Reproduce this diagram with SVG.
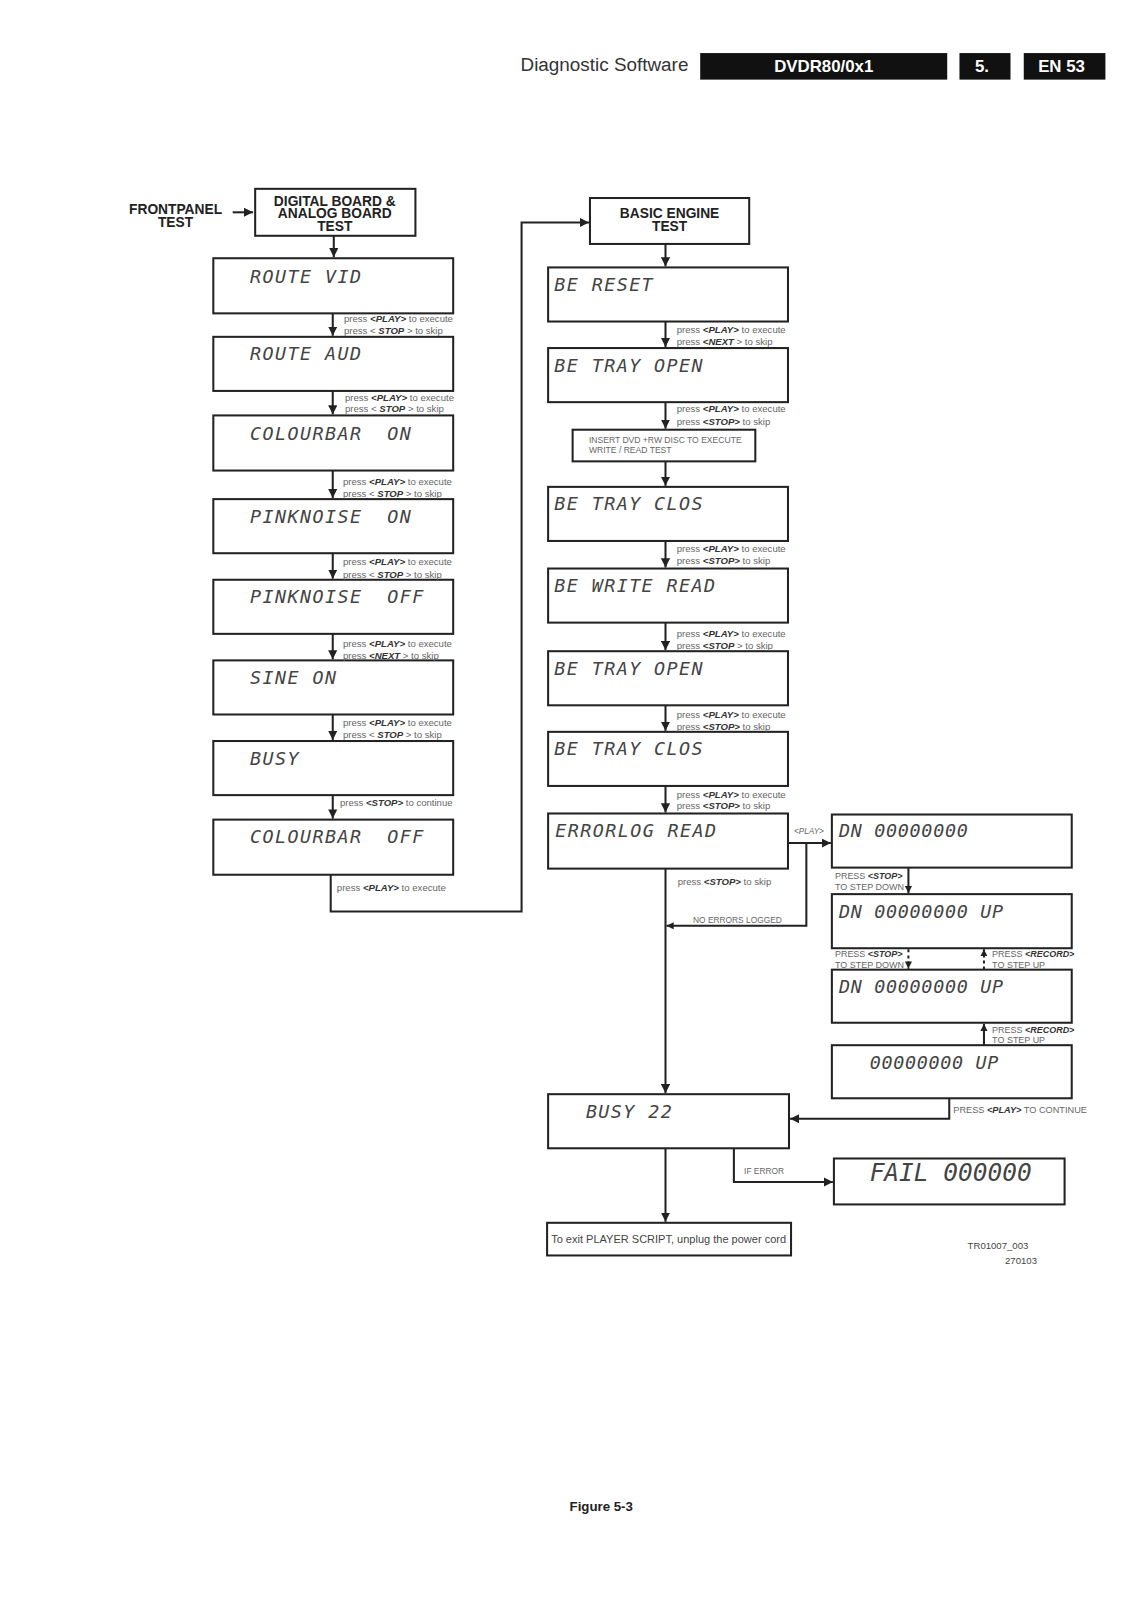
<svg xmlns="http://www.w3.org/2000/svg" width="1131" height="1600" viewBox="0 0 1131 1600">
<defs>
<marker id="ah" viewBox="0 0 10 10" refX="10" refY="5" markerWidth="9" markerHeight="9" markerUnits="userSpaceOnUse" orient="auto"><path d="M0,0 L10,5 L0,10 Z" fill="#222"/></marker>
<marker id="ahs" viewBox="0 0 10 10" refX="10" refY="5" markerWidth="7" markerHeight="7" markerUnits="userSpaceOnUse" orient="auto"><path d="M0,0 L10,5 L0,10 Z" fill="#222"/></marker>
<style>
.box{fill:#fff;stroke:#222;stroke-width:2}
.lcd{font-family:"DejaVu Sans Mono",monospace;font-size:18px;font-style:italic;fill:#444;letter-spacing:1.4px}
.lcd2{font-family:"DejaVu Sans Mono",monospace;font-size:18px;font-style:italic;fill:#444;letter-spacing:0.7px}
.big{font-family:"DejaVu Sans Mono",monospace;font-size:24px;font-style:italic;fill:#444}
.lbl{font-family:"Liberation Sans",Arial,sans-serif;font-size:9.4px;fill:#666}
.kw{font-weight:bold;font-style:italic;fill:#333}
.ttl{font-family:"Liberation Sans",Arial,sans-serif;font-weight:bold;font-size:13.5px;fill:#222;text-anchor:middle}
.conn{stroke:#222;stroke-width:2;fill:none}
.dash{stroke:#222;stroke-width:2;fill:none;stroke-dasharray:3 3}
.hdr{font-family:"Liberation Sans",Arial,sans-serif;font-size:18.5px;fill:#333}
.hdrw{font-family:"Liberation Sans",Arial,sans-serif;font-size:16.5px;font-weight:bold;fill:#fff;text-anchor:middle}
</style>
</defs>
<rect width="1131" height="1600" fill="#fff"/>
<g transform="scale(1.0207)">
<g id="header">
<text class="hdr" x="510" y="70">Diagnostic Software</text>
<rect x="686" y="52" width="242" height="26" fill="#111"/>
<text class="hdrw" x="807" y="71">DVDR80/0x1</text>
<rect x="940" y="52" width="50" height="26" fill="#111"/>
<text class="hdrw" x="962" y="71">5.</text>
<rect x="1003" y="52" width="80" height="26" fill="#111"/>
<text class="hdrw" x="1040" y="71">EN 53</text>
</g>

<g id="connectors">
<line class="conn" x1="228" y1="208" x2="248" y2="208" marker-end="url(#ah)"/>
<line class="conn" x1="327" y1="231" x2="327" y2="252" marker-end="url(#ah)"/>
<line class="conn" x1="326" y1="307" x2="326" y2="329" marker-end="url(#ah)"/>
<line class="conn" x1="326" y1="383" x2="326" y2="406" marker-end="url(#ah)"/>
<line class="conn" x1="326" y1="461" x2="326" y2="488" marker-end="url(#ah)"/>
<line class="conn" x1="326" y1="542" x2="326" y2="567" marker-end="url(#ah)"/>
<line class="conn" x1="326" y1="621" x2="326" y2="646" marker-end="url(#ah)"/>
<line class="conn" x1="326" y1="700" x2="326" y2="725" marker-end="url(#ah)"/>
<line class="conn" x1="326" y1="779" x2="326" y2="802" marker-end="url(#ah)"/>
<polyline class="conn" points="324,857 324,893 511,893 511,218 577,218" marker-end="url(#ah)"/>
<line class="conn" x1="652" y1="239" x2="652" y2="261" marker-end="url(#ah)"/>
<line class="conn" x1="652" y1="315" x2="652" y2="340" marker-end="url(#ah)"/>
<line class="conn" x1="652" y1="394" x2="652" y2="420" marker-end="url(#ah)"/>
<line class="conn" x1="652" y1="452" x2="652" y2="476" marker-end="url(#ah)"/>
<line class="conn" x1="652" y1="530" x2="652" y2="556" marker-end="url(#ah)"/>
<line class="conn" x1="652" y1="610" x2="652" y2="637" marker-end="url(#ah)"/>
<line class="conn" x1="652" y1="691" x2="652" y2="716" marker-end="url(#ah)"/>
<line class="conn" x1="652" y1="770" x2="652" y2="796" marker-end="url(#ah)"/>
<line class="conn" x1="652" y1="851" x2="652" y2="1071" marker-end="url(#ah)"/>
<line class="conn" x1="772" y1="826" x2="814" y2="826" marker-end="url(#ah)"/>
<polyline class="conn" points="790,826 790,907 653,907" marker-end="url(#ahs)"/>
<line class="conn" x1="890" y1="850" x2="890" y2="875" marker-end="url(#ahs)"/>
<line class="dash" x1="890" y1="930" x2="890" y2="949" marker-end="url(#ahs)"/>
<line class="dash" x1="964" y1="950" x2="964" y2="930" marker-end="url(#ahs)"/>
<line class="conn" x1="964" y1="1024" x2="964" y2="1003" marker-end="url(#ahs)"/>
<polyline class="conn" points="930,1076 930,1096 774,1096" marker-end="url(#ah)"/>
<line class="conn" x1="652" y1="1125" x2="652" y2="1197" marker-end="url(#ah)"/>
<polyline class="conn" points="719,1125 719,1158 816,1158" marker-end="url(#ah)"/>
</g>

<g id="frontpanel">
<text class="ttl" x="172" y="210">FRONTPANEL</text>
<text class="ttl" x="172" y="222">TEST</text>
</g>
<g id="n-digital">
<rect class="box" x="250" y="185" width="157" height="46"/>
<text class="ttl" x="328" y="202">DIGITAL BOARD &amp;</text>
<text class="ttl" x="328" y="214">ANALOG BOARD</text>
<text class="ttl" x="328" y="226">TEST</text>
</g>
<g id="n-routevid"><rect class="box" x="209" y="253" width="235" height="54"/><text class="lcd" x="245" y="277">ROUTE VID</text></g>
<g id="n-routeaud"><rect class="box" x="209" y="330" width="235" height="53"/><text class="lcd" x="245" y="353">ROUTE AUD</text></g>
<g id="n-colbaron"><rect class="box" x="209" y="407" width="235" height="54"/><text class="lcd" x="245" y="431" xml:space="preserve">COLOURBAR  ON</text></g>
<g id="n-pinkon"><rect class="box" x="209" y="489" width="235" height="53"/><text class="lcd" x="245" y="512" xml:space="preserve">PINKNOISE  ON</text></g>
<g id="n-pinkoff"><rect class="box" x="209" y="568" width="235" height="53"/><text class="lcd" x="245" y="591" xml:space="preserve">PINKNOISE  OFF</text></g>
<g id="n-sine"><rect class="box" x="209" y="647" width="235" height="53"/><text class="lcd" x="245" y="670">SINE ON</text></g>
<g id="n-busy"><rect class="box" x="209" y="726" width="235" height="53"/><text class="lcd" x="245" y="749">BUSY</text></g>
<g id="n-colbaroff"><rect class="box" x="209" y="803" width="235" height="54"/><text class="lcd" x="245" y="826" xml:space="preserve">COLOURBAR  OFF</text></g>

<g id="labels-left">
<text class="lbl" x="337" y="315">press <tspan class="kw">&lt;PLAY&gt;</tspan> to execute</text>
<text class="lbl" x="337" y="327">press &lt; <tspan class="kw">STOP</tspan> &gt; to skip</text>
<text class="lbl" x="338" y="393">press <tspan class="kw">&lt;PLAY&gt;</tspan> to execute</text>
<text class="lbl" x="338" y="404">press &lt; <tspan class="kw">STOP</tspan> &gt; to skip</text>
<text class="lbl" x="336" y="475">press <tspan class="kw">&lt;PLAY&gt;</tspan> to execute</text>
<text class="lbl" x="336" y="487">press &lt; <tspan class="kw">STOP</tspan> &gt; to skip</text>
<text class="lbl" x="336" y="554">press <tspan class="kw">&lt;PLAY&gt;</tspan> to execute</text>
<text class="lbl" x="336" y="566">press &lt; <tspan class="kw">STOP</tspan> &gt; to skip</text>
<text class="lbl" x="336" y="634">press <tspan class="kw">&lt;PLAY&gt;</tspan> to execute</text>
<text class="lbl" x="336" y="646">press <tspan class="kw">&lt;NEXT</tspan> &gt; to skip</text>
<text class="lbl" x="336" y="711">press <tspan class="kw">&lt;PLAY&gt;</tspan> to execute</text>
<text class="lbl" x="336" y="723">press &lt; <tspan class="kw">STOP</tspan> &gt; to skip</text>
<text class="lbl" x="333" y="790">press <tspan class="kw">&lt;STOP&gt;</tspan> to continue</text>
<text class="lbl" x="330" y="873">press <tspan class="kw">&lt;PLAY&gt;</tspan> to execute</text>
</g>

<g id="n-basic">
<rect class="box" x="578" y="194" width="156" height="45"/>
<text class="ttl" x="656" y="214">BASIC ENGINE</text>
<text class="ttl" x="656" y="226">TEST</text>
</g>
<g id="n-bereset"><rect class="box" x="537" y="262" width="235" height="53"/><text class="lcd" x="543" y="285">BE RESET</text></g>
<g id="n-traopen1"><rect class="box" x="537" y="341" width="235" height="53"/><text class="lcd" x="543" y="364">BE TRAY OPEN</text></g>
<g id="n-insert">
<rect class="box" x="561" y="421" width="179" height="31"/>
<text class="lbl" x="577" y="434" style="font-size:8.4px">INSERT DVD +RW DISC TO EXECUTE</text>
<text class="lbl" x="577" y="444" style="font-size:8.4px">WRITE / READ TEST</text>
</g>
<g id="n-trayclos1"><rect class="box" x="537" y="477" width="235" height="53"/><text class="lcd" x="543" y="500">BE TRAY CLOS</text></g>
<g id="n-writeread"><rect class="box" x="537" y="557" width="235" height="53"/><text class="lcd" x="543" y="580">BE WRITE READ</text></g>
<g id="n-trayopen2"><rect class="box" x="537" y="638" width="235" height="53"/><text class="lcd" x="543" y="661">BE TRAY OPEN</text></g>
<g id="n-trayclos2"><rect class="box" x="537" y="717" width="235" height="53"/><text class="lcd" x="543" y="740">BE TRAY CLOS</text></g>
<g id="n-errorlog"><rect class="box" x="537" y="797" width="235" height="54"/><text class="lcd" x="544" y="820">ERRORLOG READ</text></g>

<g id="labels-right">
<text class="lbl" x="663" y="326">press <tspan class="kw">&lt;PLAY&gt;</tspan> to execute</text>
<text class="lbl" x="663" y="338">press <tspan class="kw">&lt;NEXT</tspan> &gt; to skip</text>
<text class="lbl" x="663" y="404">press <tspan class="kw">&lt;PLAY&gt;</tspan> to execute</text>
<text class="lbl" x="663" y="416">press <tspan class="kw">&lt;STOP&gt;</tspan> to skip</text>
<text class="lbl" x="663" y="541">press <tspan class="kw">&lt;PLAY&gt;</tspan> to execute</text>
<text class="lbl" x="663" y="553">press <tspan class="kw">&lt;STOP&gt;</tspan> to skip</text>
<text class="lbl" x="663" y="624">press <tspan class="kw">&lt;PLAY&gt;</tspan> to execute</text>
<text class="lbl" x="663" y="636">press <tspan class="kw">&lt;STOP</tspan> &gt; to skip</text>
<text class="lbl" x="663" y="703">press <tspan class="kw">&lt;PLAY&gt;</tspan> to execute</text>
<text class="lbl" x="663" y="715">press <tspan class="kw">&lt;STOP&gt;</tspan> to skip</text>
<text class="lbl" x="663" y="782">press <tspan class="kw">&lt;PLAY&gt;</tspan> to execute</text>
<text class="lbl" x="663" y="793">press <tspan class="kw">&lt;STOP&gt;</tspan> to skip</text>
<text class="lbl" x="664" y="867">press <tspan class="kw">&lt;STOP&gt;</tspan> to skip</text>
<text class="lbl" x="778" y="817" style="font-size:8px;font-style:italic">&lt;PLAY&gt;</text>
<text class="lbl" x="679" y="904" style="font-size:8.2px">NO ERRORS LOGGED</text>
<text class="lbl" x="818" y="861" style="font-size:8.8px">PRESS <tspan class="kw">&lt;STOP&gt;</tspan></text>
<text class="lbl" x="818" y="872" style="font-size:8.8px">TO STEP DOWN</text>
<text class="lbl" x="818" y="938" style="font-size:8.8px">PRESS <tspan class="kw">&lt;STOP&gt;</tspan></text>
<text class="lbl" x="818" y="948" style="font-size:8.8px">TO STEP DOWN</text>
<text class="lbl" x="972" y="938" style="font-size:8.8px">PRESS <tspan class="kw">&lt;RECORD&gt;</tspan></text>
<text class="lbl" x="972" y="948" style="font-size:8.8px">TO STEP UP</text>
<text class="lbl" x="972" y="1012" style="font-size:8.8px">PRESS <tspan class="kw">&lt;RECORD&gt;</tspan></text>
<text class="lbl" x="972" y="1022" style="font-size:8.8px">TO STEP UP</text>
<text class="lbl" x="934" y="1090" style="font-size:9px">PRESS <tspan class="kw">&lt;PLAY&gt;</tspan> TO CONTINUE</text>
<text class="lbl" x="729" y="1150" style="font-size:8.2px">IF ERROR</text>
</g>

<g id="n-dn1"><rect class="box" x="815" y="798" width="235" height="52"/><text class="lcd2" x="822" y="820">DN 00000000</text></g>
<g id="n-dn2"><rect class="box" x="815" y="876" width="235" height="53"/><text class="lcd2" x="822" y="899">DN 00000000 UP</text></g>
<g id="n-dn3"><rect class="box" x="815" y="950" width="235" height="52"/><text class="lcd2" x="822" y="973">DN 00000000 UP</text></g>
<g id="n-dn4"><rect class="box" x="815" y="1024" width="235" height="52"/><text class="lcd2" x="852" y="1047">00000000 UP</text></g>
<g id="n-busy22"><rect class="box" x="537" y="1072" width="236" height="53"/><text class="lcd" x="574" y="1095">BUSY 22</text></g>
<g id="n-fail"><rect class="box" x="817" y="1135" width="226" height="45"/><text class="big" x="852" y="1157">FAIL 000000</text></g>
<g id="n-exit"><rect class="box" x="536" y="1198" width="239" height="32"/><text class="lbl" x="540" y="1218" style="font-size:10.8px;fill:#444">To exit PLAYER SCRIPT, unplug the power cord</text></g>

<g id="footer">
<text class="lbl" x="948" y="1224" style="font-size:9.4px;fill:#444">TR01007_003</text>
<text class="lbl" x="1016" y="1238" style="font-size:9.4px;fill:#444;text-anchor:end">270103</text>
<text x="558" y="1480" style="font-family:'Liberation Sans',Arial,sans-serif;font-weight:bold;font-size:13px;fill:#222">Figure 5-3</text>
</g>
</g>
</svg>
